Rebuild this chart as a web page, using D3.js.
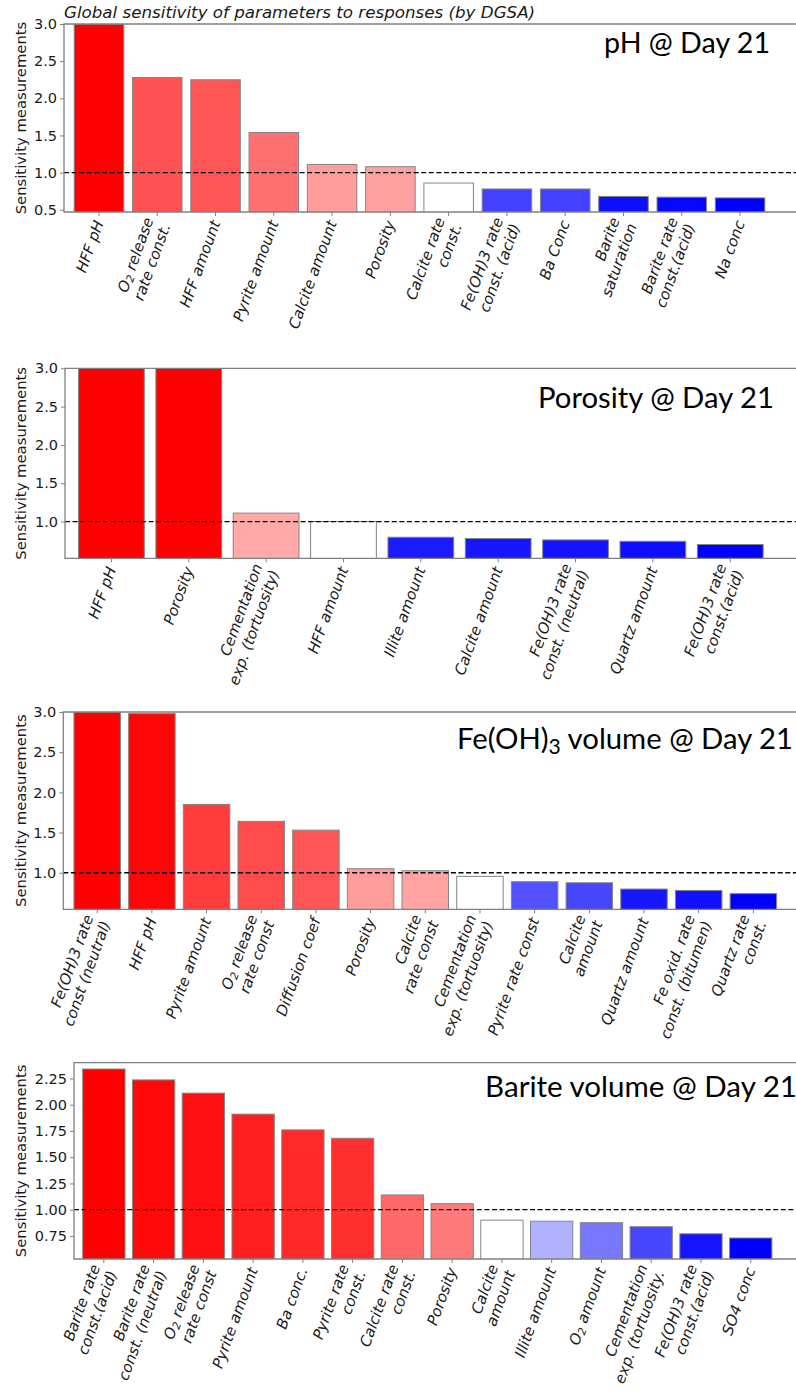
<!DOCTYPE html>
<html>
<head>
<meta charset="utf-8">
<script src="https://cdn.jsdelivr.net/npm/d3@7"></script>
<style>
    body { margin: 0; background: #fff; }
    svg { display: block; }
</style>
</head>
<body>
<svg id="chart" width="796" height="1391"></svg>
<script>
// ---- data ----
const ph_labels = ["HFF pH", "O_2 release\nrate const.", "HFF amount", "Pyrite amount", "Calcite amount",
    "Porosity", "Calcite rate\nconst.", "Fe(OH)3 rate\nconst. (acid)", "Ba Conc", "Barite\nsaturation",
    "Barite rate\nconst.(acid)", "Na conc"];
const ph_values = [3.0, 2.28, 2.25, 1.54, 1.11, 1.08, 0.86, 0.78, 0.78, 0.68, 0.67, 0.66];
const ph_colors = ["#ff0000", "#ff5353", "#ff5555", "#ff7171", "#ff9d9d", "#ffa1a1", "#ffffff",
    "#4141ff", "#4141ff", "#0d0dff", "#0707ff", "#0000ff"];

const porosity_labels = ["HFF pH", "Porosity", "Cementation\nexp. (tortuosity)", "HFF amount", "Illite amount",
    "Calcite amount", "Fe(OH)3 rate\nconst. (neutral)", "Quartz amount", "Fe(OH)3 rate\nconst.(acid)"];
const porosity_values = [3.0, 3.0, 1.11, 1.0, 0.795, 0.778, 0.76, 0.742, 0.70];
const porosity_colors = ["#ff0000", "#ff0000", "#ffa9a9", "#ffffff", "#1b1bff", "#1616ff", "#1313ff",
    "#0d0dff", "#0000ff"];

const feoh_labels = ["Fe(OH)3 rate\nconst (neutral)", "HFF pH", "Pyrite amount", "O_2 release\nrate const",
    "Diffusion  coef", "Porosity", "Calcite\nrate const", "Cementation\nexp. (tortuosity)", "Pyrite rate const",
    "Calcite\namount", "Quartz amount", "Fe oxid. rate\nconst. (bitumen)", "Quartz rate\nconst."];
const feoh_values = [3.0, 2.98, 1.85, 1.64, 1.53, 1.05, 1.025, 0.955, 0.888, 0.875, 0.797, 0.78, 0.74];
const feoh_colors = ["#ff0000", "#ff0505", "#ff3d3d", "#ff4b4b", "#ff5555", "#ff9d9d", "#ffa3a3", "#ffffff",
    "#5151ff", "#4646ff", "#1717ff", "#1111ff", "#0000ff"];

const barite_labels = ["Barite rate\nconst.(acid)", "Barite rate\nconst. (neutral)", "O_2 release\nrate const",
    "Pyrite amount", "Ba conc.", "Pyrite rate\nconst.", "Calcite rate\nconst.", "Porosity", "Calcite\namount",
    "Illite amount", "O_2 amount", "Cementation\nexp. (tortuosity.", "Fe(OH)3 rate\nconst.(acid)", "SO4 conc"];
const barite_values = [2.34, 2.236, 2.11, 1.91, 1.76, 1.68, 1.14, 1.057, 0.90, 0.89, 0.876, 0.838, 0.77, 0.73];
const barite_colors = ["#ff0000", "#ff0808", "#ff0f0f", "#ff1f1f", "#ff2929", "#ff2f2f", "#ff6868", "#ff7a7a",
    "#ffffff", "#b0b0ff", "#7878ff", "#4747ff", "#1414ff", "#0000ff"];

const y_ticks_half = [0.5, 1.0, 1.5, 2.0, 2.5, 3.0];
const y_ticks_quarter = [0.75, 1.0, 1.25, 1.5, 1.75, 2.0, 2.25];

const FIG_TITLE = "Global sensitivity of parameters to responses (by DGSA)";
const Y_LABEL = "Sensitivity measurements";

// ---- layout of each panel ----
const panels = [
    {labels: ph_labels, values: ph_values, colors: ph_colors, title: "pH @ Day 21",
        left: 64, top: 24, bottom: 212, xmin: -0.6, xmax: 11.96, ymin: 0.47, ymax: 3.0,
        ticks: y_ticks_half, fmt: ".1f", title_x: 770, title_y: 53, title_w: 166},
    {labels: porosity_labels, values: porosity_values, colors: porosity_colors, title: "Porosity @ Day 21",
        left: 65, top: 368.3, bottom: 558.3, xmin: -0.6, xmax: 8.85, ymin: 0.52, ymax: 3.0,
        ticks: y_ticks_half, fmt: ".1f", title_x: 774, title_y: 408, title_w: 236},
    {labels: feoh_labels, values: feoh_values, colors: feoh_colors, title: "Fe(OH)_3 volume @ Day 21",
        left: 63.3, top: 712, bottom: 909.3, xmin: -0.62, xmax: 12.78, ymin: 0.545, ymax: 3.0,
        ticks: y_ticks_half, fmt: ".1f", title_x: 793, title_y: 749, title_w: 336},
    {labels: barite_labels, values: barite_values, colors: barite_colors, title: "Barite volume @ Day 21",
        left: 74, top: 1062.7, bottom: 1259, xmin: -0.6, xmax: 13.91, ymin: 0.53, ymax: 2.40,
        ticks: y_ticks_quarter, fmt: ".2f", title_x: 797, title_y: 1097, title_w: 312}
];

const RIGHT = 796;
const BAR_WIDTH = 0.85;
const SPINE_COLOR = "#808080";
const TEXT_COLOR = "#1a1a1a";
const TICK_FONT = 15;

const svg = d3.select("#chart");

// Writes a string into a text node, turning "_2" style markers into subscripts
function add_rich_text(text_sel, str) {
    const parts = str.split(/(_\d)/);
    parts.forEach(function (p) {
        if (p === "") return;
        if (p[0] === "_") {
            text_sel.append("tspan")
                .attr("baseline-shift", "-22%")
                .attr("font-size", "72%")
                .text(p.slice(1));
        } else {
            text_sel.append("tspan").text(p);
        }
    });
}

function draw_panel(p, idx) {
    const x = d3.scaleLinear().domain([p.xmin, p.xmax]).range([p.left, RIGHT]);
    const y = d3.scaleLinear().domain([p.ymin, p.ymax]).range([p.bottom, p.top]);

    const g = svg.append("g").attr("class", "panel-" + idx);

    const clip_id = "clip" + idx;
    g.append("clipPath").attr("id", clip_id)
        .append("rect")
        .attr("x", p.left).attr("y", p.top)
        .attr("width", RIGHT - p.left).attr("height", p.bottom - p.top);

    // bars
    g.append("g")
        .attr("clip-path", "url(#" + clip_id + ")")
        .selectAll("rect")
        .data(p.values)
        .enter().append("rect")
        .attr("x", (d, i) => x(i - BAR_WIDTH / 2))
        .attr("width", (d, i) => x(i + BAR_WIDTH / 2) - x(i - BAR_WIDTH / 2))
        .attr("y", d => y(d))
        .attr("height", d => p.bottom + 2 - y(d))
        .attr("fill", (d, i) => p.colors[i])
        .attr("stroke", "#858585")
        .attr("stroke-width", 1);

    // reference line at 1.0
    g.append("line")
        .attr("x1", p.left).attr("x2", RIGHT)
        .attr("y1", y(1.0)).attr("y2", y(1.0))
        .attr("stroke", "#000")
        .attr("stroke-width", 1.3)
        .attr("stroke-dasharray", "5,2.6");

    // y axis, only ticks that fall inside the y limits
    const ticks = p.ticks.filter(t => t >= p.ymin && t <= p.ymax);
    const y_axis = g.append("g")
        .attr("transform", "translate(" + p.left + ",0)")
        .call(d3.axisLeft(y).tickValues(ticks).tickFormat(d3.format(p.fmt)).tickSize(4).tickPadding(3));
    y_axis.select(".domain").remove();
    y_axis.selectAll(".tick line").attr("stroke", SPINE_COLOR);
    y_axis.selectAll(".tick text")
        .attr("fill", TEXT_COLOR)
        .attr("font-family", "DejaVu Sans")
        .attr("font-size", 14.5);

    // x ticks
    g.append("g").selectAll("line")
        .data(p.values)
        .enter().append("line")
        .attr("x1", (d, i) => x(i)).attr("x2", (d, i) => x(i))
        .attr("y1", p.bottom).attr("y2", p.bottom + 4)
        .attr("stroke", SPINE_COLOR);

    // spines: left, top, bottom
    g.append("path")
        .attr("d", "M" + RIGHT + "," + p.top + "H" + p.left + "V" + p.bottom + "H" + RIGHT)
        .attr("fill", "none")
        .attr("stroke", SPINE_COLOR)
        .attr("stroke-width", 1.3);

    // rotated x tick labels, anchored at their right end and centred on the tick
    const lh = TICK_FONT * 1.2;
    p.labels.forEach(function (lab, i) {
        const lines = lab.split("\n");
        const lg = g.append("g")
            .attr("transform", "translate(" + x(i) + "," + (p.bottom + 9) + ") rotate(-70)");
        lines.forEach(function (ln, j) {
            const t = lg.append("text")
                .attr("x", 0)
                .attr("y", (j - (lines.length - 1) / 2) * lh + TICK_FONT * 0.35)
                .attr("text-anchor", "end")
                .attr("font-family", "DejaVu Sans")
                .attr("font-style", "oblique")
                .attr("font-size", TICK_FONT)
                .attr("fill", TEXT_COLOR);
            add_rich_text(t, ln);
        });
    });

    // y label
    g.append("text")
        .attr("transform", "translate(21," + ((p.top + p.bottom) / 2) + ") rotate(-90)")
        .attr("text-anchor", "middle")
        .attr("dy", "0.35em")
        .attr("font-family", "DejaVu Sans")
        .attr("font-size", 14.8)
        .attr("fill", TEXT_COLOR)
        .text(Y_LABEL);

    // panel title, font size fitted so the text spans the same width as in the picture
    const tt = g.append("text")
        .attr("x", p.title_x)
        .attr("y", p.title_y)
        .attr("text-anchor", "end")
        .attr("font-family", "Lato")
        .attr("font-size", 28)
        .attr("fill", "#000");
    add_rich_text(tt, p.title);
    const w = tt.node().getComputedTextLength();
    if (w > 0) tt.attr("font-size", 28 * p.title_w / w);
}

panels.forEach(draw_panel);

svg.append("text")
    .attr("x", 64)
    .attr("y", 18)
    .attr("font-family", "DejaVu Sans")
    .attr("font-style", "oblique")
    .attr("font-size", 16.7)
    .attr("fill", TEXT_COLOR)
    .text(FIG_TITLE);
</script>
</body>
</html>
